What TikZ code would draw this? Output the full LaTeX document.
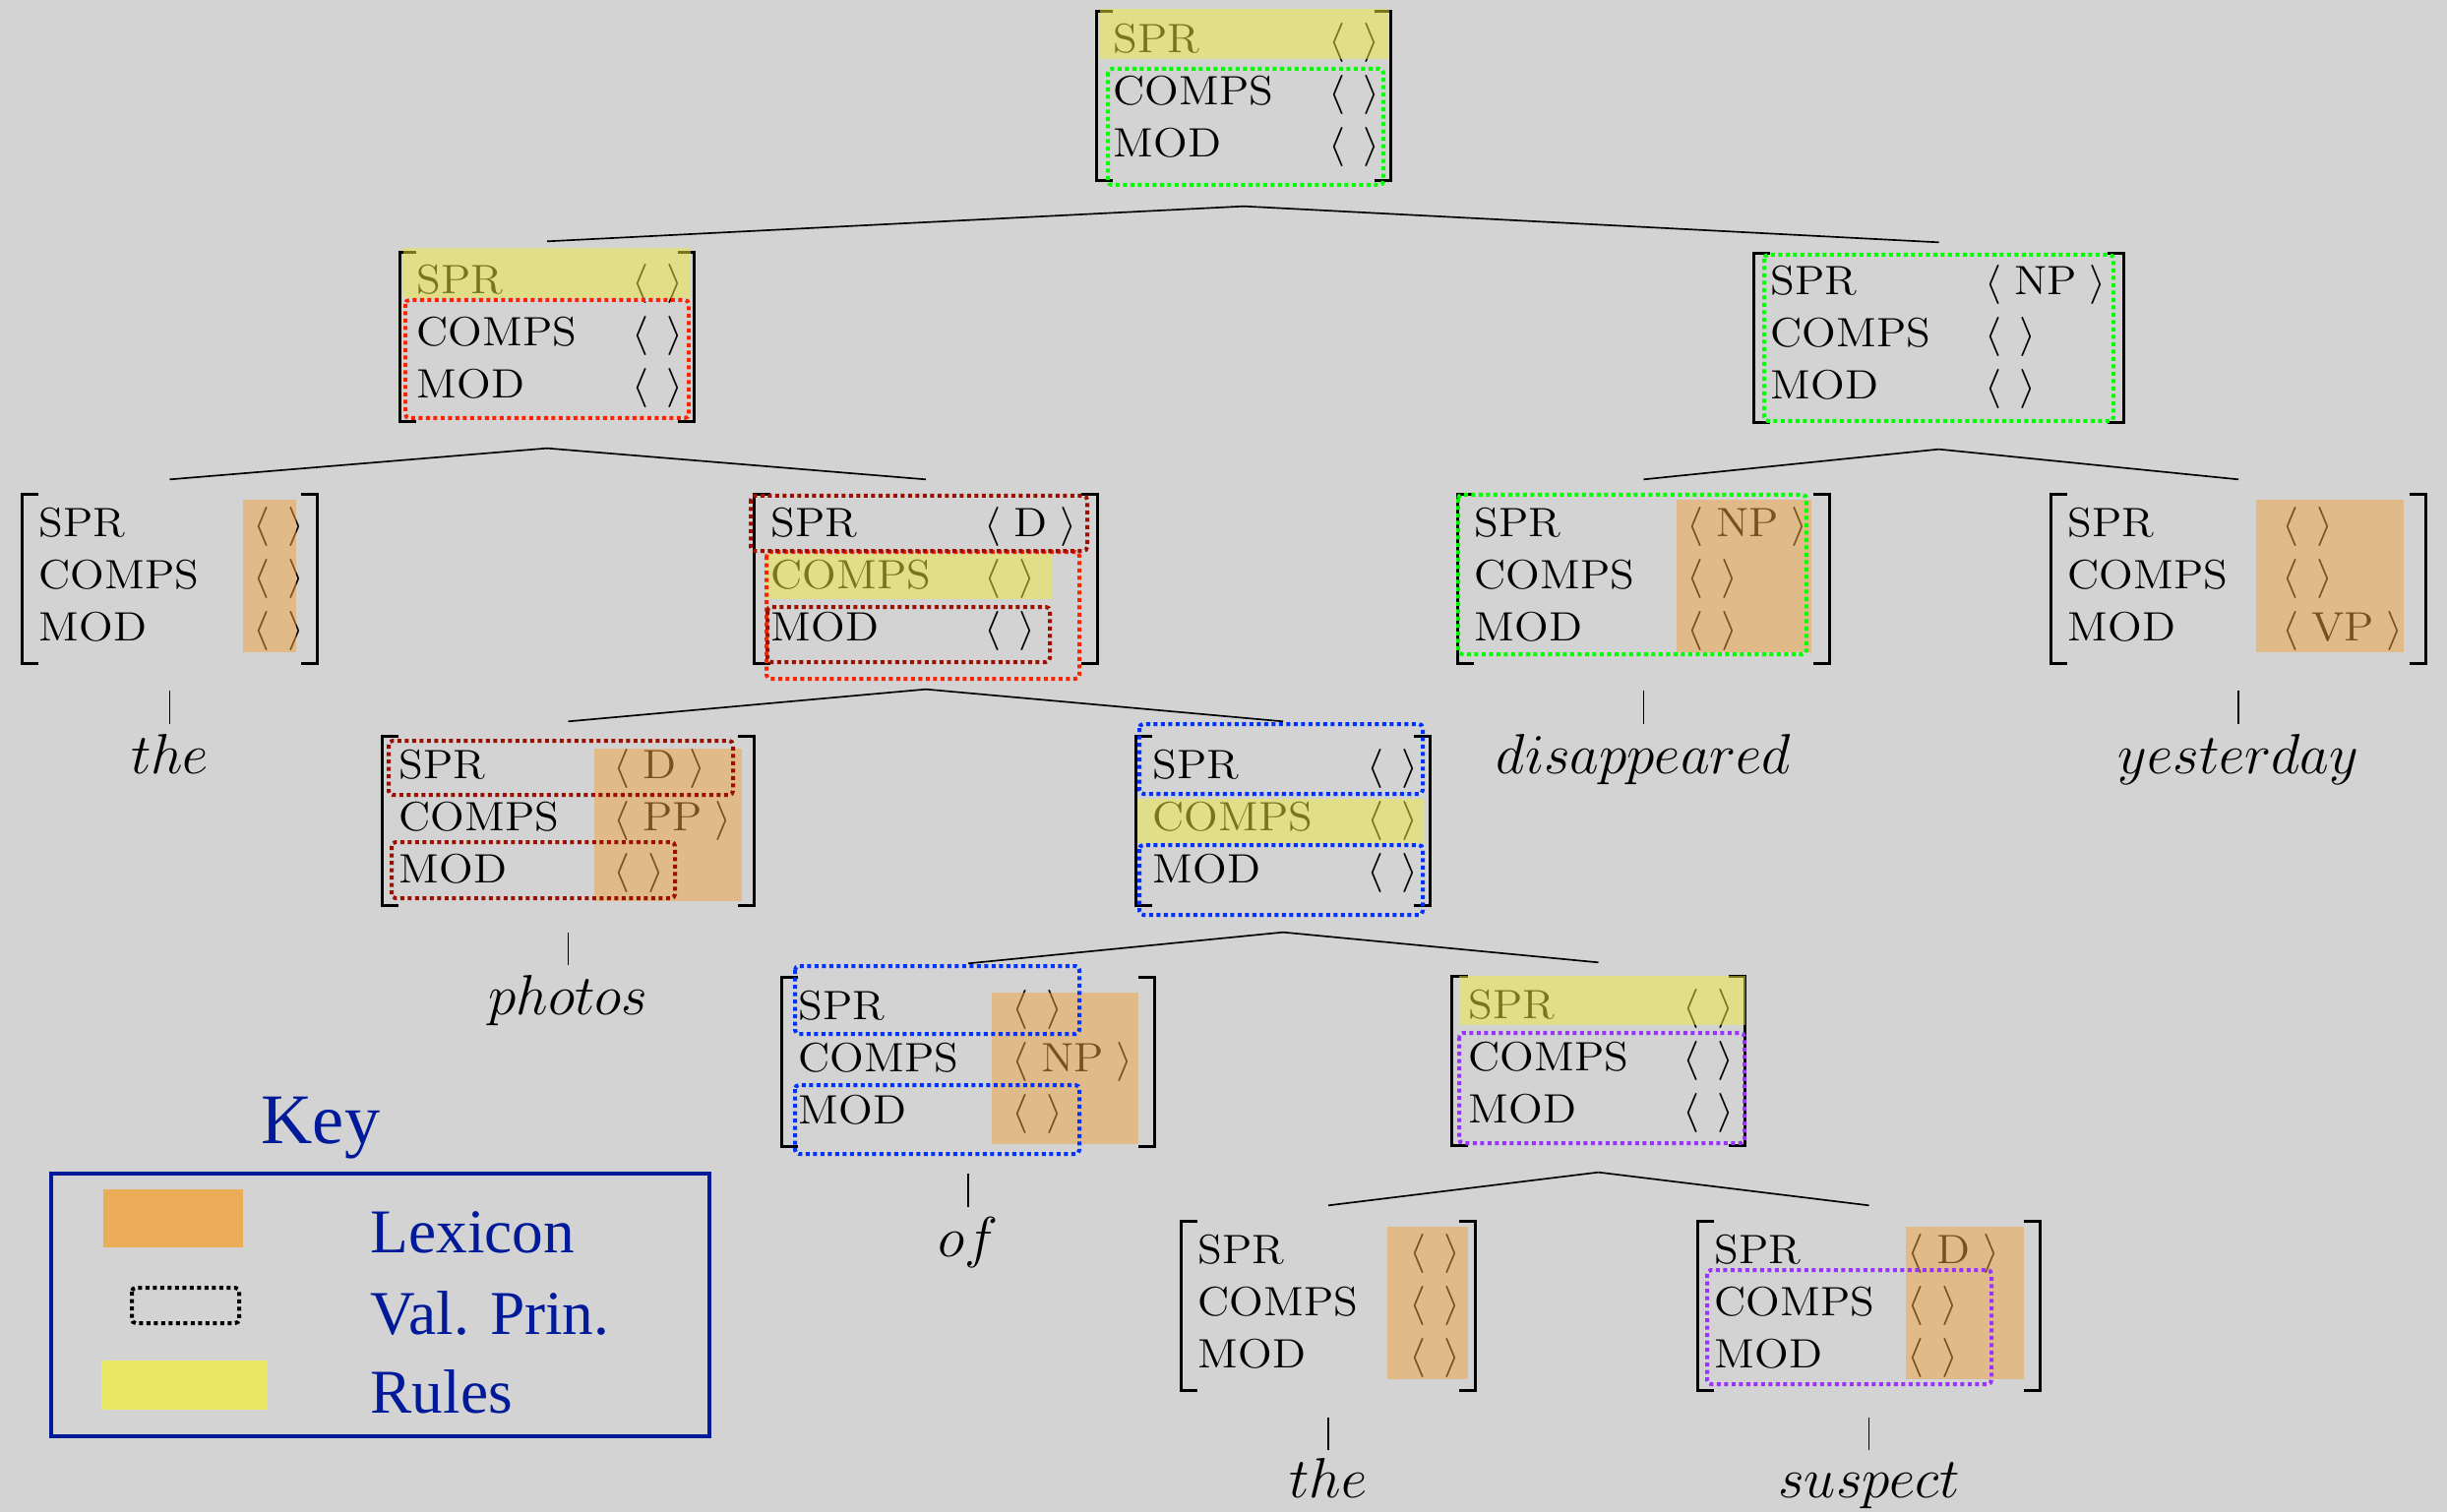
\documentclass[tikz,border=0pt]{standalone}
\usepackage{fontspec}
\usepackage{graphicx}
\newfontfamily\legfont{Liberation Serif}
\usetikzlibrary{calc}
\definecolor{bgc}{RGB}{211,211,211}
\definecolor{yhl}{RGB}{238,234,62}
\definecolor{ohl}{RGB}{238,162,62}
\definecolor{legor}{RGB}{235,173,87}
\definecolor{legye}{RGB}{234,232,101}
\definecolor{vgreen}{RGB}{0,255,0}
\definecolor{vred}{RGB}{255,34,0}
\definecolor{vdred}{RGB}{155,16,0}
\definecolor{vblue}{RGB}{0,51,255}
\definecolor{vpurple}{RGB}{153,51,255}
\definecolor{keyblue}{RGB}{0,26,153}
\newcommand\fx[1]{\scalebox{1.09}[1]{#1}}
\newcommand\emp{$\langle$\hspace{0.39em}$\rangle$}
\newcommand\lst[1]{$\langle$\hspace{0.28em}#1\hspace{0.28em}$\rangle$}
% #1 name, #2 left, #3 top, #4 right, #5 value column x, #6-#8 values
\newcommand\avm[8]{%
  \node[avmbox, minimum width={(#4-#2)*0.3pt}] (#1) at ({(#2+#4)/2},{#3+85.5}) {};
  \draw[brk] ($(#1.north west)+(17,0)$) -- (#1.north west) -- (#1.south west) -- ($(#1.south west)+(17,0)$);
  \draw[brk] ($(#1.north east)+(-17,0)$) -- (#1.north east) -- (#1.south east) -- ($(#1.south east)+(-17,0)$);
  \node[feat] (#1-sl) at (#2+16,#3+42) {\fx{SPR}};
  \node[feat] (#1-cl) at (#2+16,#3+95) {\fx{COMPS}};
  \node[feat] (#1-ml) at (#2+16,#3+148) {\fx{MOD}};
  \node[feat] (#1-sv) at (#5,#3+42) {\fx{#6}};
  \node[feat] (#1-cv) at (#5,#3+95) {\fx{#7}};
  \node[feat] (#1-mv) at (#5,#3+148) {\fx{#8}};
}
\begin{document}
\begin{tikzpicture}[x=0.3pt,y=-0.3pt,
  avmbox/.style={inner sep=0pt, minimum height=51.3pt},
  feat/.style={anchor=base west, inner sep=0pt, font=\fontsize{12.5}{15}\selectfont},
  word/.style={anchor=base, inner sep=0pt, font=\fontsize{16}{19}\selectfont, text height=11pt, text depth=3pt},
  brk/.style={line width=1pt, line join=miter, line cap=butt},
  tl/.style={line width=0.5pt},
  vbox/.style={line width=1.2pt, dash pattern=on 1.2pt off 1.05pt, rounded corners=1.2pt},
  yover/.style={fill=yhl, fill opacity=0.5},
  oover/.style={fill=ohl, fill opacity=0.5},
  legtext/.style={anchor=base west, inner sep=0pt, text=keyblue, font=\legfont\fontsize{19}{22}\selectfont},
  legbox/.style={draw=keyblue, line width=1.2pt, inner sep=0pt}
]
\fill[bgc] (0,0) rectangle (2487,1537);
\useasboundingbox (0,0) rectangle (2487,1537);

% AVMs
\avm{A}{1115}{12}{1413}{1350}{\emp}{\emp}{\emp}
\avm{B}{407}{257}{705}{642}{\emp}{\emp}{\emp}
\avm{C}{1783}{258}{2158}{2017}{\lst{NP}}{\emp}{\emp}
\avm{D}{23}{503}{322}{257}{\emp}{\emp}{\emp}
\avm{E}{767}{503}{1115}{1000}{\lst{D}}{\emp}{\emp}
\avm{F}{1482}{503}{1859}{1714}{\lst{NP}}{\emp}{\emp}
\avm{G}{2085}{503}{2465}{2319}{\emp}{\emp}{\lst{VP}}
\avm{H}{389}{749}{766}{623}{\lst{D}}{\lst{PP}}{\emp}
\avm{I}{1155}{749}{1453}{1389}{\emp}{\emp}{\emp}
\avm{J}{795}{994}{1173}{1028}{\emp}{\lst{NP}}{\emp}
\avm{K}{1476}{993}{1773}{1710}{\emp}{\emp}{\emp}
\avm{L}{1201}{1242}{1499}{1432}{\emp}{\emp}{\emp}
\avm{M}{1726}{1242}{2073}{1938}{\lst{D}}{\emp}{\emp}

% leaf words
\node[word] (wD) at ($(D.south)+(0,112)$) {$the$};
\node[word] (wF) at ($(F.south)+(0,112)$) {$disappeared$};
\node[word] (wG) at ($(G.south)+(0,112)$) {$yesterday$};
\node[word] (wH) at ($(H.south)+(0,111)$) {$photos$};
\node[word] (wJ) at ($(J.south)+(0,112)$) {$of$};
\node[word] (wL) at ($(L.south)+(0,109)$) {$the$};
\node[word] (wM) at ($(M.south)+(0,109)$) {$suspect$};

% tree branches
\draw[tl] ($(A.south)+(0,26)$) -- ($(B.north)+(0,-11)$);
\draw[tl] ($(A.south)+(0,26)$) -- ($(C.north)+(0,-11)$);
\draw[tl] ($(B.south)+(0,27)$) -- ($(D.north)+(0,-15)$);
\draw[tl] ($(B.south)+(0,27)$) -- ($(E.north)+(0,-15)$);
\draw[tl] ($(C.south)+(0,27)$) -- ($(F.north)+(0,-15)$);
\draw[tl] ($(C.south)+(0,27)$) -- ($(G.north)+(0,-15)$);
\draw[tl] ($(E.south)+(0,26)$) -- ($(H.north)+(0,-15)$);
\draw[tl] ($(E.south)+(0,26)$) -- ($(I.north)+(0,-15)$);
\draw[tl] ($(I.south)+(0,27)$) -- ($(J.north)+(0,-14)$);
\draw[tl] ($(I.south)+(0,27)$) -- ($(K.north)+(0,-14)$);
\draw[tl] ($(K.south)+(0,27)$) -- ($(L.north)+(0,-16)$);
\draw[tl] ($(K.south)+(0,27)$) -- ($(M.north)+(0,-16)$);
% leaf lines
\draw[tl] ($(D.south)+(0,27)$) -- ($(wD.north)+(0,-13)$);
\draw[tl] ($(F.south)+(0,27)$) -- ($(wF.north)+(0,-13)$);
\draw[tl] ($(G.south)+(0,27)$) -- ($(wG.north)+(0,-13)$);
\draw[tl] ($(H.south)+(0,27)$) -- ($(wH.north)+(0,-13)$);
\draw[tl] ($(J.south)+(0,27)$) -- ($(wJ.north)+(0,-13)$);
\draw[tl] ($(L.south)+(0,27)$) -- ($(wL.north)+(0,-11)$);
\draw[tl] ($(M.south)+(0,27)$) -- ($(wM.north)+(0,-11)$);

% rule (yellow) overlays
\fill[yover] (1118,9) rectangle (1412,60);
\fill[yover] (410,252) rectangle (702,303);
\fill[yover] (778,563) rectangle (1069,609);
\fill[yover] (1156,812) rectangle (1447,857);
\fill[yover] (1483,992) rectangle (1774,1042);
% lexicon (orange) overlays
\fill[oover] (247,508) rectangle (301,663);
\fill[oover] (1704,508) rectangle (1841,663);
\fill[oover] (2293,508) rectangle (2443,663);
\fill[oover] (604,761) rectangle (754,916);
\fill[oover] (1008,1009) rectangle (1157,1163);
\fill[oover] (1410,1247) rectangle (1492,1402);
\fill[oover] (1937,1247) rectangle (2057,1402);

% valence principle boxes
\draw[vbox, vgreen] (1126,70) rectangle (1406,188);
\draw[vbox, vgreen] (1793,259) rectangle (2148,428);
\draw[vbox, vgreen] (1482,503) rectangle (1836,665);
\draw[vbox, vred] (412,305) rectangle (700,425);
\draw[vbox, vred] (779,561) rectangle (1097,690);
\draw[vbox, vdred] (763,504) rectangle (1105,560);
\draw[vbox, vdred] (780,617) rectangle (1067,673);
\draw[vbox, vdred] (395,753) rectangle (745,808);
\draw[vbox, vdred] (398,856) rectangle (686,913);
\draw[vbox, vblue] (1158,736) rectangle (1446,807);
\draw[vbox, vblue] (1158,859) rectangle (1446,930);
\draw[vbox, vblue] (808,982) rectangle (1097,1051);
\draw[vbox, vblue] (808,1103) rectangle (1097,1173);
\draw[vbox, vpurple] (1483,1050) rectangle (1773,1162);
\draw[vbox, vpurple] (1735,1291) rectangle (2024,1407);

% key
\node[legtext, font=\legfont\fontsize{21.7}{24}\selectfont] (keyt) at (265,1162) {Key};
\node[legbox, minimum width=200.7pt, minimum height=80.1pt] (legend) at (386.5,1326.5) {};
\fill[legor] (105,1209) rectangle (247,1268);
\draw[vbox, black] (134,1309) rectangle (243,1345);
\fill[legye] (103,1383) rectangle (272,1433);
\node[legtext] (lexi) at (376,1273) {Lexicon};
\node[legtext] (valp) at (376,1356) {Val. Prin.};
\node[legtext] (rules) at (376,1436) {Rules};
\end{tikzpicture}
\end{document}
